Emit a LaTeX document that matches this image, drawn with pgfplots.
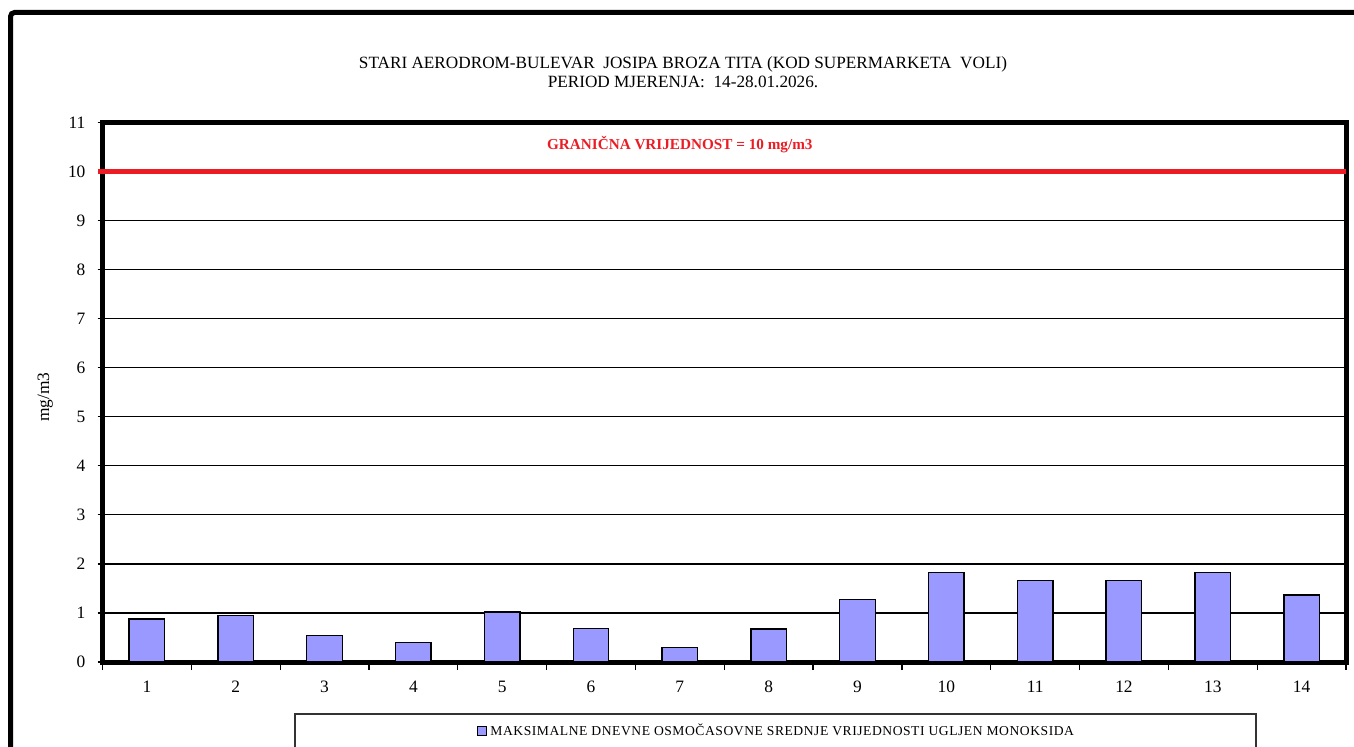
\documentclass[border=0pt]{standalone}
\usepackage{fontspec}
\setmainfont{Liberation Serif}
\usepackage{pgfplots}
\pgfplotsset{compat=1.18}
\definecolor{barblue}{RGB}{153,153,255}
\definecolor{limred}{RGB}{237,28,36}
\begin{document}
\begin{tikzpicture}
\path[use as bounding box] (0,0) rectangle (677pt,373pt);
\begin{axis}[
  at={(51.25pt,42pt)}, anchor=south west,
  scale only axis, width=621.75pt, height=269.75pt,
  xmin=0.5, xmax=14.5, ymin=0, ymax=11,
  ytick={0,1,...,11},
  xtick={1,...,14},
  tick pos=left,
  xtick style={draw=none},
  extra x ticks={0.5,1.5,...,14.5},
  extra x tick labels={},
  extra x tick style={xtick style={draw=black, line width=0.6pt}, major tick length=4pt},
  tick align=outside,
  major tick length=2.5pt,
  ytick style={line width=0.6pt, black},
  axis line style={line width=2.5pt},
  ymajorgrids, grid style={black, line width=0.6pt},
  /pgf/number format/assume math mode=true,
  tick label style={font=\fontsize{8.7}{10}\selectfont},
  yticklabel style={xshift=-2.5pt},
  xticklabel style={yshift=-3.5pt},
  ylabel={mg/m3},
  ylabel style={at={(axis description cs:-0.046,0.491)}, anchor=center, font=\fontsize{8.7}{10}\selectfont},
  clip=false,
  legend style={draw=none, fill=none, at={(0.5428,-0.1279)}, anchor=center,
    font=\fontsize{6.8}{8}\selectfont\addfontfeature{LetterSpace=4}, inner sep=0pt},
]
\addplot[ybar, bar width=0.4, fill=barblue, draw=black, line width=0.7pt, forget plot] coordinates {
 (1,0.88) (2,0.95) (3,0.54) (4,0.40) (5,1.02) (6,0.68) (7,0.30)
 (8,0.67) (9,1.27) (10,1.83) (11,1.66) (12,1.66) (13,1.83) (14,1.37)};
\addlegendimage{legend image code/.code={\draw[fill=barblue, draw=black, line width=0.4pt] (0pt,-2.2pt) rectangle (4.4pt,2.2pt);}}
\addlegendentry{MAKSIMALNE DNEVNE OSMOČASOVNE SREDNJE VRIJEDNOSTI UGLJEN MONOKSIDA}
\addplot[limred, line width=2.5pt, forget plot] coordinates {(0.45,10) (14.5,10)};
\node[text=limred, font=\bfseries\fontsize{7.6}{9}\selectfont] at (axis cs:7.0,10.55) {GRANIČNA VRIJEDNOST = 10 mg/m3};
\end{axis}
\draw[line width=2.5pt, rounded corners=2pt] (5.25pt,-10pt) -- (5.25pt,366.75pt) -- (690pt,366.75pt);
\node[align=center, font=\fontsize{8.6}{9.6}\selectfont] at (341.5pt,336.75pt)
  {STARI AERODROM-BULEVAR\ \ JOSIPA BROZA TITA (KOD SUPERMARKETA\ \ VOLI)\\PERIOD MJERENJA:\ \ 14-28.01.2026.};
\draw[line width=0.7pt, black!80] (147.5pt,-10pt) rectangle (628pt,16pt);
\end{tikzpicture}
\end{document}
